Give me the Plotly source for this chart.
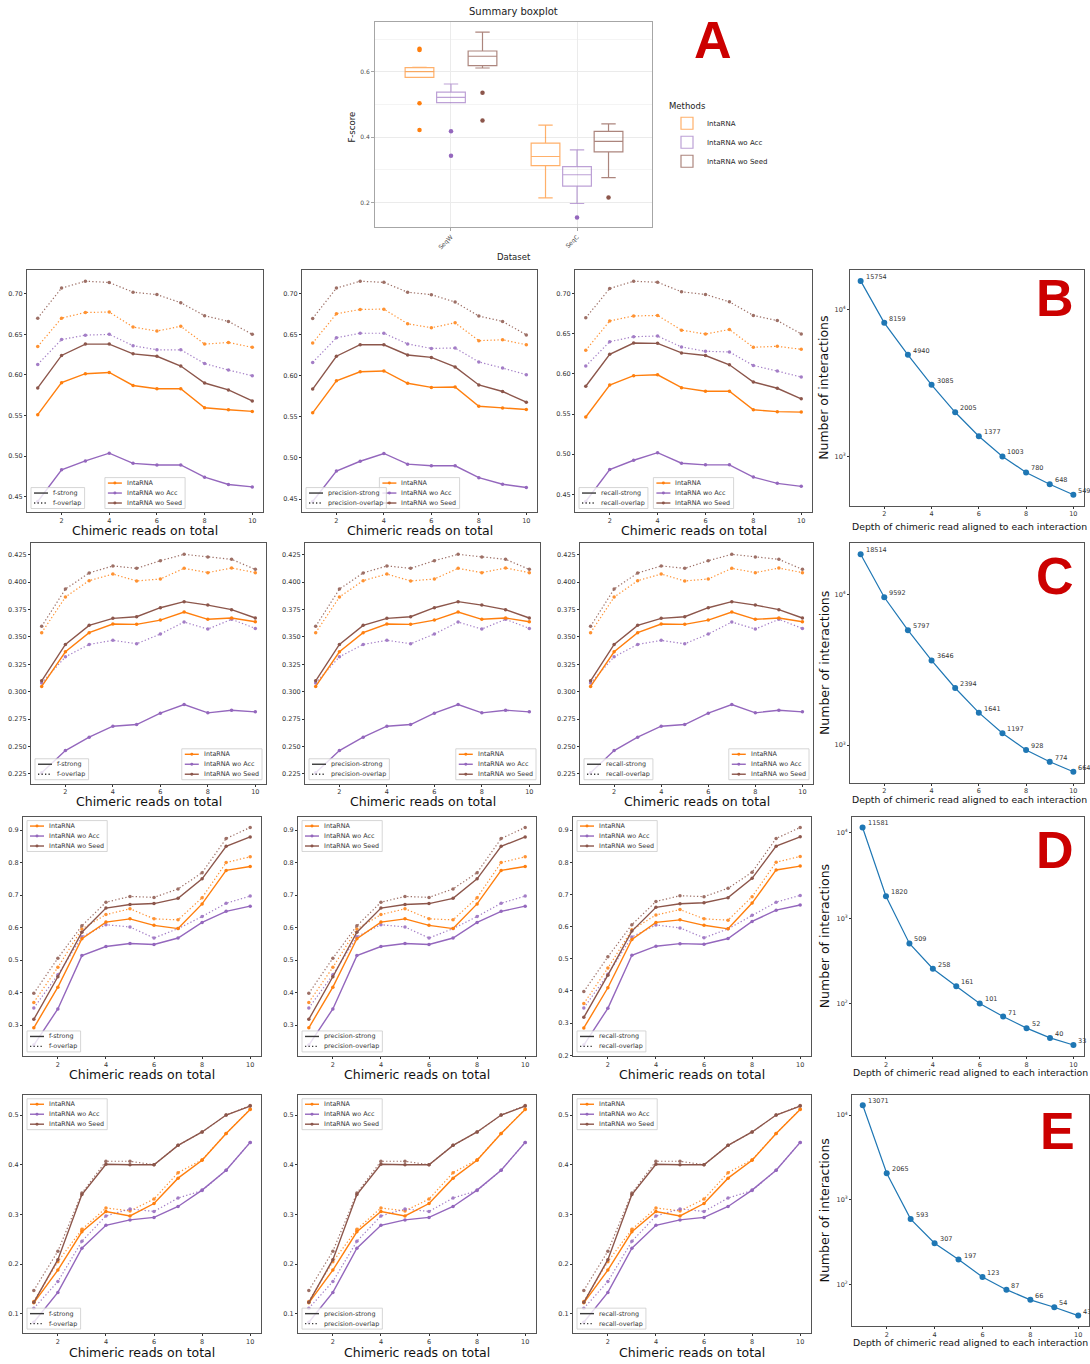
import numpy as np
import plotly.graph_objects as go

W, H = 1090, 1364
depth = list(range(1, 11))
methods = ["IntaRNA", "IntaRNA wo Acc", "IntaRNA wo Seed"]
method_colors = {"IntaRNA": "#ff7f0e", "IntaRNA wo Acc": "#9467bd", "IntaRNA wo Seed": "#8c564b"}
box_edge_colors = {"IntaRNA": "rgba(255,127,14,0.62)", "IntaRNA wo Acc": "rgba(148,103,189,0.62)",
                   "IntaRNA wo Seed": "rgba(140,86,75,0.72)"}

# ---------------- Panel A : summary boxplot ----------------
datasets = ["SeqW", "SeqC"]
box_lower = {"IntaRNA": [0.583, 0.214], "IntaRNA wo Acc": [0.506, 0.197], "IntaRNA wo Seed": [0.612, 0.276]}
box_q1 = {"IntaRNA": [0.583, 0.313], "IntaRNA wo Acc": [0.506, 0.250], "IntaRNA wo Seed": [0.619, 0.355]}
box_median = {"IntaRNA": [0.601, 0.341], "IntaRNA wo Acc": [0.522, 0.285], "IntaRNA wo Seed": [0.648, 0.387]}
box_q3 = {"IntaRNA": [0.613, 0.382], "IntaRNA wo Acc": [0.538, 0.310], "IntaRNA wo Seed": [0.664, 0.418]}
box_upper = {"IntaRNA": [0.614, 0.437], "IntaRNA wo Acc": [0.563, 0.361], "IntaRNA wo Seed": [0.722, 0.441]}
outliers_seqw = {"IntaRNA": [0.671, 0.667, 0.504, 0.422], "IntaRNA wo Acc": [0.418, 0.343],
                 "IntaRNA wo Seed": [0.536, 0.451]}
outliers_seqc = {"IntaRNA": [], "IntaRNA wo Acc": [0.154], "IntaRNA wo Seed": [0.215]}

# ---------------- Row B ----------------
B_f_strong = {"IntaRNA": [0.551, 0.5905, 0.6015, 0.603, 0.587, 0.583, 0.583, 0.5595, 0.557, 0.555],
              "IntaRNA wo Acc": [0.444, 0.483, 0.494, 0.5035, 0.491, 0.489, 0.489, 0.474, 0.465, 0.462],
              "IntaRNA wo Seed": [0.584, 0.624, 0.638, 0.638, 0.626, 0.623, 0.611, 0.590, 0.5815, 0.568]}
B_f_overlap = {"IntaRNA": [0.635, 0.670, 0.677, 0.6775, 0.659, 0.654, 0.660, 0.638, 0.640, 0.634],
               "IntaRNA wo Acc": [0.613, 0.6436, 0.649, 0.650, 0.636, 0.631, 0.631, 0.614, 0.606, 0.599],
               "IntaRNA wo Seed": [0.670, 0.707, 0.7155, 0.714, 0.702, 0.699, 0.689, 0.673, 0.666, 0.650]}
B_precision_strong = {"IntaRNA": [0.555, 0.594, 0.605, 0.606, 0.591, 0.586, 0.5865, 0.563, 0.561, 0.559],
                      "IntaRNA wo Acc": [0.447, 0.484, 0.496, 0.5055, 0.4925, 0.4905, 0.4905, 0.476, 0.468, 0.464],
                      "IntaRNA wo Seed": [0.584, 0.624, 0.638, 0.638, 0.6255, 0.6226, 0.611, 0.589, 0.581, 0.568]}
B_precision_overlap = {"IntaRNA": [0.640, 0.6757, 0.681, 0.6814, 0.6635, 0.6587, 0.6647, 0.643, 0.644, 0.638],
                       "IntaRNA wo Acc": [0.6165, 0.6465, 0.652, 0.652, 0.639, 0.6335, 0.634, 0.617, 0.6096, 0.6015],
                       "IntaRNA wo Seed": [0.670, 0.707, 0.7154, 0.714, 0.702, 0.699, 0.690, 0.673, 0.6664, 0.650]}
B_recall_strong = {"IntaRNA": [0.5464, 0.5863, 0.5979, 0.599, 0.583, 0.5785, 0.5785, 0.5554, 0.553, 0.5525],
                   "IntaRNA wo Acc": [0.441, 0.4809, 0.4924, 0.5019, 0.4887, 0.4867, 0.4867, 0.4714, 0.4636, 0.4599],
                   "IntaRNA wo Seed": [0.5847, 0.6246, 0.6386, 0.6382, 0.6263, 0.623, 0.6115, 0.590, 0.5822, 0.569]}
B_recall_overlap = {"IntaRNA": [0.6296, 0.6662, 0.6724, 0.673, 0.6547, 0.6498, 0.6555, 0.6333, 0.6345, 0.6308],
                    "IntaRNA wo Acc": [0.610, 0.6403, 0.6465, 0.6473, 0.6337, 0.6283, 0.6275, 0.6106, 0.6036, 0.5962],
                    "IntaRNA wo Seed": [0.670, 0.7066, 0.7157, 0.7144, 0.7025, 0.6992, 0.690, 0.673, 0.6666, 0.650]}

# ---------------- Row C ----------------
C_strong = {"IntaRNA": [0.3048, 0.3364, 0.3538, 0.3617, 0.3614, 0.3653, 0.3726, 0.366, 0.3672, 0.3638],
            "IntaRNA wo Acc": [0.226, 0.2463, 0.2585, 0.2685, 0.270, 0.2804, 0.2883, 0.2807, 0.2831, 0.2816],
            "IntaRNA wo Seed": [0.3099, 0.3431, 0.3605, 0.3669, 0.3684, 0.3766, 0.3821, 0.379, 0.3748, 0.3672]}
C_overlap = {"IntaRNA": [0.3538, 0.3863, 0.4013, 0.4073, 0.401, 0.4028, 0.4125, 0.4086, 0.4128, 0.4086],
             "IntaRNA wo Acc": [0.3078, 0.3318, 0.3431, 0.3468, 0.3437, 0.3526, 0.3635, 0.3571, 0.366, 0.3577],
             "IntaRNA wo Seed": [0.3596, 0.3936, 0.4083, 0.4147, 0.4125, 0.4195, 0.4253, 0.4229, 0.4207, 0.4116]}

# ---------------- Row D ----------------
D_f_strong = {"IntaRNA": [0.292, 0.417, 0.566, 0.617, 0.627, 0.607, 0.597, 0.673, 0.776, 0.788],
              "IntaRNA wo Acc": [0.239, 0.350, 0.514, 0.542, 0.551, 0.548, 0.568, 0.616, 0.650, 0.666],
              "IntaRNA wo Seed": [0.318, 0.449, 0.586, 0.660, 0.671, 0.674, 0.690, 0.750, 0.850, 0.879]}
D_f_overlap = {"IntaRNA": [0.370, 0.478, 0.596, 0.640, 0.658, 0.627, 0.624, 0.692, 0.800, 0.818],
               "IntaRNA wo Acc": [0.353, 0.455, 0.572, 0.609, 0.602, 0.568, 0.597, 0.634, 0.675, 0.697],
               "IntaRNA wo Seed": [0.398, 0.506, 0.606, 0.678, 0.696, 0.693, 0.719, 0.769, 0.874, 0.908]}
D_recall_strong = {"IntaRNA": [0.285, 0.410, 0.560, 0.613, 0.621, 0.604, 0.593, 0.673, 0.776, 0.788],
                   "IntaRNA wo Acc": [0.232, 0.346, 0.511, 0.539, 0.547, 0.545, 0.563, 0.616, 0.651, 0.667],
                   "IntaRNA wo Seed": [0.318, 0.449, 0.586, 0.660, 0.671, 0.674, 0.690, 0.750, 0.850, 0.879]}
D_recall_overlap = {"IntaRNA": [0.361, 0.471, 0.590, 0.636, 0.653, 0.624, 0.620, 0.693, 0.800, 0.818],
                    "IntaRNA wo Acc": [0.347, 0.452, 0.568, 0.605, 0.596, 0.565, 0.593, 0.635, 0.676, 0.697],
                    "IntaRNA wo Seed": [0.398, 0.506, 0.606, 0.678, 0.696, 0.693, 0.719, 0.769, 0.874, 0.908]}

# ---------------- Row E ----------------
E_strong = {"IntaRNA": [0.122, 0.188, 0.265, 0.306, 0.297, 0.322, 0.373, 0.409, 0.463, 0.511],
            "IntaRNA wo Acc": [0.083, 0.143, 0.232, 0.278, 0.289, 0.294, 0.316, 0.349, 0.389, 0.445],
            "IntaRNA wo Seed": [0.123, 0.209, 0.340, 0.401, 0.400, 0.400, 0.439, 0.466, 0.500, 0.518]}
E_overlap = {"IntaRNA": [0.125, 0.205, 0.270, 0.313, 0.307, 0.331, 0.384, 0.410, 0.463, 0.512],
             "IntaRNA wo Acc": [0.111, 0.165, 0.246, 0.297, 0.311, 0.306, 0.333, 0.348, 0.389, 0.445],
             "IntaRNA wo Seed": [0.147, 0.226, 0.343, 0.407, 0.407, 0.400, 0.439, 0.466, 0.500, 0.519]}

# ---------------- interaction counts ----------------
B_counts = [15754, 8159, 4940, 3085, 2005, 1377, 1003, 780, 648, 549]
C_counts = [18514, 9592, 5797, 3646, 2394, 1641, 1197, 928, 774, 664]
D_counts = [11581, 1820, 509, 258, 161, 101, 71, 52, 40, 33]
E_counts = [13071, 2065, 593, 307, 197, 123, 87, 66, 54, 43]

metrics = ["f", "precision", "recall"]
row_letters = ["B", "C", "D", "E"]
panel_series = {
    "B": [(B_f_strong, B_f_overlap), (B_precision_strong, B_precision_overlap), (B_recall_strong, B_recall_overlap)],
    "C": [(C_strong, C_overlap), (C_strong, C_overlap), (C_strong, C_overlap)],
    "D": [(D_f_strong, D_f_overlap), (D_f_strong, D_f_overlap), (D_recall_strong, D_recall_overlap)],
    "E": [(E_strong, E_overlap), (E_strong, E_overlap), (E_strong, E_overlap)],
}
row_counts = {"B": B_counts, "C": C_counts, "D": D_counts, "E": E_counts}

# ---------------- layout geometry (pixels) ----------------
row_geom = {
    "B": dict(t=271, b=514, b4=507, cols=[(27, 263), (302, 537), (575, 812), (850, 1084)], xl=532, xl4=528),
    "C": dict(t=545, b=786, b4=785, cols=[(31, 266), (305, 540), (580, 813), (850, 1084)], xl=804, xl4=802),
    "D": dict(t=819, b=1059, b4=1059, cols=[(23, 261), (298, 536), (573, 811), (852, 1084)], xl=1078, xl4=1076),
    "E": dict(t=1098, b=1337, b4=1330, cols=[(23, 261), (298, 536), (573, 811), (852, 1089)], xl=1356, xl4=1346),
}
row_ytick = {"B": (0.05, ".2f"), "C": (0.025, ".3f"), "D": (0.1, ".1f"), "E": (0.1, ".1f")}
method_loc = {"B": "lower center", "C": "lower right", "D": "upper left", "E": "upper left"}
letter_pos = {"A": (713, 40), "B": (1055, 299), "C": (1055, 578), "D": (1055, 853), "E": (1057, 1134)}

FONT = "DejaVu Sans"
TICKC = "#333333"
FRAME = "#555555"
DOT = "1.3px,2.2px"

fig = go.Figure()
layout = {}
shapes = []
annotations = []

DJ = {'a': .613, 'b': .635, 'c': .55, 'd': .635, 'e': .615, 'f': .352, 'g': .635, 'h': .634, 'i': .278,
      'j': .278, 'k': .579, 'l': .278, 'm': .974, 'n': .634, 'o': .612, 'p': .635, 'q': .635, 'r': .411,
      's': .521, 't': .392, 'u': .634, 'v': .592, 'w': .818, 'x': .592, 'y': .592, 'z': .525, ' ': .318,
      '-': .361, 'A': .684, 'I': .295, 'N': .748, 'R': .695, 'S': .635}


def text_w(s, size):
    return sum(DJ.get(ch, 0.62) for ch in s) * size


def label(px, py, text, size, color="#111111", angle=0, family=FONT, xanchor="center", yanchor="middle"):
    annotations.append(dict(x=px / W, y=1 - py / H, xref="paper", yref="paper", text=text, showarrow=False,
                            xanchor=xanchor, yanchor=yanchor, textangle=angle,
                            font=dict(size=size, color=color, family=family)))


def axis_keys(n):
    if n == 1:
        return "xaxis", "yaxis", "x", "y"
    return f"xaxis{n}", f"yaxis{n}", f"x{n}", f"y{n}"


def base_axis():
    return dict(showline=True, mirror=True, linecolor=FRAME, linewidth=1, ticks="outside", ticklen=2,
                tickwidth=0.8, tickcolor=TICKC, tickfont=dict(size=6.5, color=TICKC, family=FONT),
                showgrid=False, zeroline=False)


def add_legend(ax_l, ax_t, ax_r, ax_b, loc, items):
    fs = 6.4
    n = len(items)
    tw = max(text_w(it[0], fs) for it in items)
    bw = 3 + 14 + 4 + tw + 4
    bh = 10 * n + 1
    pad = 4
    if loc == "lower left":
        bl, bt = ax_l + pad, ax_b - pad - bh
    elif loc == "lower right":
        bl, bt = ax_r - pad - bw, ax_b - pad - bh
    elif loc == "lower center":
        bl, bt = (ax_l + ax_r) / 2 - bw / 2, ax_b - pad - bh
    else:
        bl, bt = ax_l + pad, ax_t + pad
    shapes.append(dict(type="rect", xref="paper", yref="paper", x0=bl / W, x1=(bl + bw) / W,
                       y0=1 - (bt + bh) / H, y1=1 - bt / H, fillcolor="rgba(255,255,255,0.8)",
                       line=dict(color="#cccccc", width=0.8), layer="above"))
    for i, (lbl, color, dash, marker) in enumerate(items):
        cy = bt + 5.5 + 10 * i
        shapes.append(dict(type="line", xref="paper", yref="paper", x0=(bl + 3) / W, x1=(bl + 17) / W,
                           y0=1 - cy / H, y1=1 - cy / H, line=dict(color=color, width=1.4, dash=dash),
                           layer="above"))
        if marker:
            shapes.append(dict(type="circle", xref="paper", yref="paper", x0=(bl + 8.5) / W, x1=(bl + 11.5) / W,
                               y0=1 - (cy + 1.5) / H, y1=1 - (cy - 1.5) / H, fillcolor=color,
                               line=dict(color=color, width=0), layer="above"))
        label(bl + 20, cy, lbl, fs, color="#333333", xanchor="left")


# ---------------- Panel A ----------------
xa, ya, xr, yr = axis_keys(1)
A_l, A_t, A_r, A_b = 375, 22, 652, 228
layout[xa] = dict(domain=[A_l / W, A_r / W], anchor=yr, range=[-0.603, 1.595], tickvals=[0, 1],
                  ticktext=datasets, tickangle=-45, showline=True, mirror=True, linecolor="#a6a6a6",
                  linewidth=1, ticks="outside", ticklen=3, tickcolor="#a6a6a6",
                  tickfont=dict(size=6, color="#4d4d4d", family=FONT), showgrid=True, gridcolor="#ebebeb",
                  gridwidth=1, zeroline=False)
layout[ya] = dict(domain=[1 - A_b / H, 1 - A_t / H], anchor=xr, range=[0.124, 0.753], tickvals=[0.2, 0.4, 0.6],
                  showline=True, mirror=True, linecolor="#a6a6a6", linewidth=1, ticks="outside", ticklen=3,
                  tickcolor="#a6a6a6", tickfont=dict(size=6, color="#4d4d4d", family=FONT), showgrid=True,
                  gridcolor="#ebebeb", gridwidth=1, zeroline=False,
                  minor=dict(tickvals=[0.3, 0.5, 0.7], showgrid=True, gridcolor="#f4f4f4", gridwidth=0.8, ticks=""))
offsets = [-0.25, 0.0, 0.25]
for i, m in enumerate(methods):
    pos = [k + offsets[i] for k in range(len(datasets))]
    fig.add_trace(go.Box(x=pos, q1=box_q1[m], median=box_median[m], q3=box_q3[m], lowerfence=box_lower[m],
                         upperfence=box_upper[m], name=m, width=0.228, boxpoints=False,
                         line=dict(color=box_edge_colors[m], width=1.2), fillcolor="rgba(255,255,255,0)",
                         xaxis=xr, yaxis=yr, legendgroup=m, showlegend=True))
    ox = [pos[0]] * len(outliers_seqw[m]) + [pos[1]] * len(outliers_seqc[m])
    oy = outliers_seqw[m] + outliers_seqc[m]
    fig.add_trace(go.Scatter(x=ox, y=oy, mode="markers", marker=dict(size=4.5, color=method_colors[m]),
                             xaxis=xr, yaxis=yr, showlegend=False, hoverinfo="skip"))
label((A_l + A_r) / 2, 12, "Summary boxplot", 10, color="#222222")
label((A_l + A_r) / 2, 258, "Dataset", 8.5, color="#222222")
label(352, 128, "F-score", 8.5, color="#222222", angle=-90)

# ---------------- line panels and interaction panels ----------------
n = 2
for rl in row_letters:
    g = row_geom[rl]
    dt, fmt = row_ytick[rl]
    for c, metric in enumerate(metrics):
        strong, overlap = panel_series[rl][c]
        l, r = g["cols"][c]
        t, b = g["t"], g["b"]
        xa, ya, xr, yr = axis_keys(n)
        allv = [v for d in (strong, overlap) for m in methods for v in d[m]]
        lo, hi = min(allv), max(allv)
        pad = 0.05 * (hi - lo)
        xcfg = base_axis()
        xcfg.update(domain=[l / W, r / W], anchor=yr, range=[0.55, 10.45], tickvals=[2, 4, 6, 8, 10])
        ycfg = base_axis()
        ycfg.update(domain=[1 - b / H, 1 - t / H], anchor=xr, range=[lo - pad, hi + pad], tick0=0, dtick=dt,
                    tickformat=fmt)
        layout[xa] = xcfg
        layout[ya] = ycfg
        for m in methods:
            fig.add_trace(go.Scatter(x=depth, y=overlap[m], mode="lines+markers",
                                     line=dict(color=method_colors[m], width=1.2, dash=DOT),
                                     marker=dict(size=3.5, color=method_colors[m]), opacity=0.85,
                                     xaxis=xr, yaxis=yr, showlegend=False))
        for m in methods:
            fig.add_trace(go.Scatter(x=depth, y=strong[m], mode="lines+markers",
                                     line=dict(color=method_colors[m], width=1.4),
                                     marker=dict(size=3.5, color=method_colors[m]),
                                     xaxis=xr, yaxis=yr, showlegend=False))
        label((l + r) / 2, g["xl"], "Chimeric reads on total", 12.5)
        add_legend(l, t, r, b, method_loc[rl],
                   [(m, method_colors[m], "solid", True) for m in methods])
        add_legend(l, t, r, b, "lower left",
                   [(f"{metric}-strong", "#3a3a3a", "solid", False),
                    (f"{metric}-overlap", "#3a3a3a", DOT, False)])
        n += 1

    # interactions panel
    counts = row_counts[rl]
    l, r = g["cols"][3]
    t, b = g["t"], g["b4"]
    xa, ya, xr, yr = axis_keys(n)
    llo, lhi = np.log10(min(counts)), np.log10(max(counts))
    lp = 0.05 * (lhi - llo)
    xcfg = base_axis()
    xcfg.update(domain=[l / W, r / W], anchor=yr, range=[0.55, 10.45], tickvals=[2, 4, 6, 8, 10])
    ycfg = base_axis()
    ycfg.update(domain=[1 - b / H, 1 - t / H], anchor=xr, type="log", range=[llo - lp, lhi + lp],
                tickvals=[10, 100, 1000, 10000],
                ticktext=["10<sup>1</sup>", "10<sup>2</sup>", "10<sup>3</sup>", "10<sup>4</sup>"])
    layout[xa] = xcfg
    layout[ya] = ycfg
    fig.add_trace(go.Scatter(x=depth, y=counts, mode="lines+markers",
                             line=dict(color="#1f77b4", width=1.2), marker=dict(size=6, color="#1f77b4"),
                             xaxis=xr, yaxis=yr, showlegend=False))
    for xv, cv in zip(depth, counts):
        annotations.append(dict(x=xv, y=float(np.log10(cv)), xref=xr, yref=yr, text=str(cv), showarrow=False,
                                xanchor="left", yanchor="middle", xshift=3, yshift=4,
                                font=dict(size=6.5, color="#333333", family=FONT)))
    label((l + 1084) / 2 + 2, g["xl4"], "Depth of chimeric read aligned to each interaction", 9.3)
    label(824, (t + b) / 2, "Number of interactions", 12.5, angle=-90)
    n += 1

for letter, (lx, ly) in letter_pos.items():
    label(lx, ly, f"<b>{letter}</b>", 52, color="#cc0000", family="Liberation Sans")

fig.update_layout(**layout)
fig.update_layout(
    width=W, height=H, margin=dict(l=0, r=0, t=0, b=0),
    paper_bgcolor="white", plot_bgcolor="white",
    font=dict(family=FONT, color="#222222"),
    showlegend=True,
    legend=dict(x=667 / W, y=1 - 98 / H, xanchor="left", yanchor="top",
                title=dict(text="Methods", font=dict(size=8.5, color="#222222", family=FONT)),
                font=dict(size=7, color="#222222", family=FONT), tracegroupgap=0,
                bgcolor="rgba(0,0,0,0)", itemwidth=30),
    shapes=shapes, annotations=annotations,
)
fig.write_html("out.html")
